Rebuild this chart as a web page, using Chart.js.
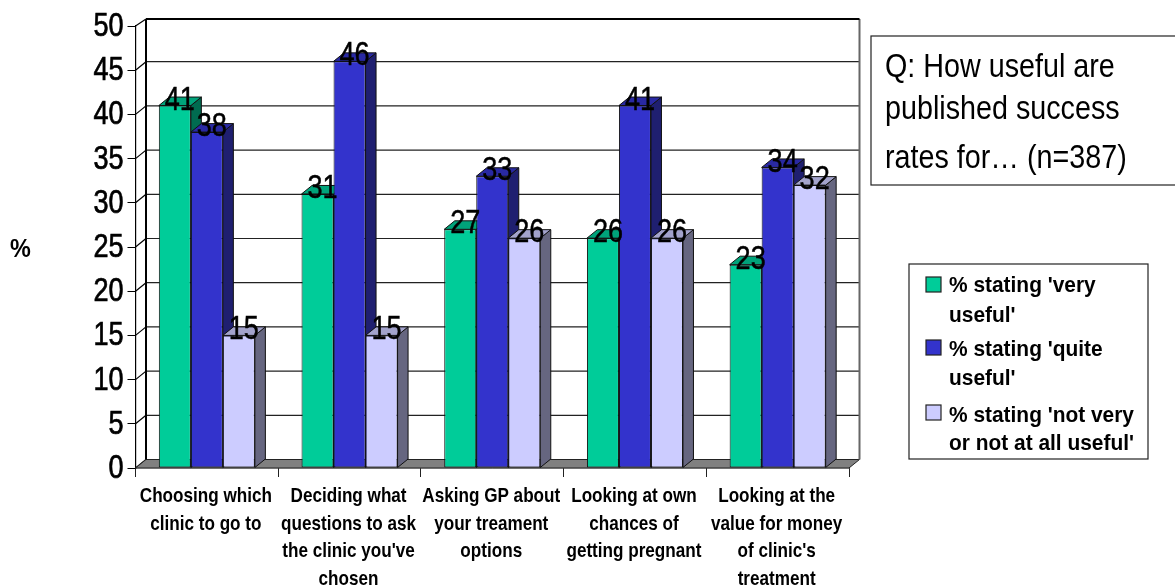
<!DOCTYPE html>
<html>
<head>
<meta charset="utf-8">
<title>Usefulness of published success rates</title>
<script src="https://cdn.jsdelivr.net/npm/chart.js@4"></script>
<style>
  html, body { margin: 0; padding: 0; background: #fff; }
  canvas { display: block; }
</style>
</head>
<body>
<canvas id="usefulChart" width="1175" height="588"></canvas>
<script>
const categories = [
  ["Choosing which", "clinic to go to"],
  ["Deciding what", "questions to ask", "the clinic you've", "chosen"],
  ["Asking GP about", "your treament", "options"],
  ["Looking at own", "chances of", "getting pregnant"],
  ["Looking at the", "value for money", "of clinic's", "treatment"]
];
const veryUseful = [41, 31, 27, 26, 23];
const quiteUseful = [38, 46, 33, 41, 34];
const notUseful = [15, 15, 26, 26, 32];

const seriesNames = ["% stating 'very useful'", "% stating 'quite useful'", "% stating 'not very or not at all useful'"];
const legendLines = [["% stating 'very", "useful'"], ["% stating 'quite", "useful'"], ["% stating 'not very", "or not at all useful'"]];
const questionLines = ["Q: How useful are", "published success", "rates for\u2026 (n=387)"];

const SANS = '"Liberation Sans", Arial, sans-serif';
const DX = 10.5, DY = 8.5;   // depth of the fake 3D extrusion

const faces = [
  { front: "#00CC99", top: "#00A37A", side: "#006B50" },
  { front: "#3333CC", top: "#2929A3", side: "#1F1F70" },
  { front: "#CCCCFF", top: "#A3A3CC", side: "#666680" }
];

function poly(ctx, pts, fill, stroke) {
  ctx.beginPath();
  pts.forEach((p, i) => i ? ctx.lineTo(p[0], p[1]) : ctx.moveTo(p[0], p[1]));
  ctx.closePath();
  if (fill) { ctx.fillStyle = fill; ctx.fill(); }
  if (stroke) { ctx.strokeStyle = stroke; ctx.lineWidth = 1; ctx.stroke(); }
}

function line(ctx, x1, y1, x2, y2, color, width) {
  ctx.beginPath();
  ctx.moveTo(x1, y1);
  ctx.lineTo(x2, y2);
  ctx.strokeStyle = color;
  ctx.lineWidth = width;
  ctx.stroke();
}

// there is no condensed Arial here, so text gets squeezed horizontally
function squeezed(ctx, text, x, y, sx, heavy) {
  ctx.save();
  ctx.translate(x, y);
  ctx.scale(sx, 1);
  ctx.fillText(text, 0, 0);
  if (heavy) {
    ctx.strokeStyle = "#000";
    ctx.lineWidth = heavy;
    ctx.strokeText(text, 0, 0);
  }
  ctx.restore();
}

// back wall, floor and slanted tick connectors
const wallPlugin = {
  id: "wall",
  beforeDatasetsDraw(chart) {
    const { ctx, chartArea: a, scales: { y } } = chart;
    const wallTop = a.top - 7;
    ctx.save();
    y.ticks.forEach((t) => {
      const py = y.getPixelForValue(t.value);
      line(ctx, a.left, py, a.left + DX, t.value === 50 ? wallTop : py - DY, "#000", 1.2);
      if (t.value > 0 && t.value < 50) line(ctx, a.left + DX, py - DY, a.right + DX, py - DY, "#222", 1.2);
    });
    poly(ctx, [[a.left, a.bottom], [a.right, a.bottom], [a.right + DX, a.bottom - DY], [a.left + DX, a.bottom - DY]], "#808080", "#222");
    line(ctx, a.right + DX, wallTop, a.right + DX, a.bottom - DY, "#666", 2);
    line(ctx, a.left + DX, wallTop, a.left + DX, a.bottom - DY, "#000", 2);
    line(ctx, a.left + DX, wallTop, a.right + DX, wallTop, "#000", 2);
    ctx.restore();
  }
};

// Chart.js paints datasets last to first, but here each bar has to cover its
// left neighbour's side face, so the default pass is cancelled and redone left to right
const barsPlugin = {
  id: "bars3d",
  beforeDatasetDraw() { return false; },
  afterDatasetsDraw(chart) {
    const { ctx } = chart;
    const metas = chart.data.datasets.map((_, i) => chart.getDatasetMeta(i));
    ctx.save();
    metas.forEach((meta, m) => {
      const f = faces[m];
      meta.data.forEach((bar) => {
        const l = bar.x - bar.width / 2, r = bar.x + bar.width / 2, t = bar.y, b = bar.base;
        poly(ctx, [[r, t], [r + DX, t - DY], [r + DX, b - DY], [r, b]], f.side, "#111");
        poly(ctx, [[l, t], [l + DX, t - DY], [r + DX, t - DY], [r, t]], f.top, "#111");
        bar.draw(ctx);
      });
    });
    // value labels sit on top of everything
    ctx.font = "33px " + SANS;
    ctx.fillStyle = "#000";
    ctx.textAlign = "center";
    ctx.textBaseline = "middle";
    metas.forEach((meta, m) => {
      meta.data.forEach((bar, i) => {
        squeezed(ctx, chart.data.datasets[m].data[i], bar.x + 5, bar.y - 5, 0.82, 0.5);
      });
    });
    ctx.restore();
  }
};

// axis labels, drawn from the scales' own ticks so they can be squeezed
const axisLabelPlugin = {
  id: "axisLabels",
  afterDraw(chart) {
    const { ctx, chartArea: a, scales: { x, y } } = chart;
    ctx.save();
    ctx.fillStyle = "#000";
    ctx.font = "33px " + SANS;
    ctx.textAlign = "right";
    ctx.textBaseline = "middle";
    y.ticks.forEach((t, i) => squeezed(ctx, t.label, a.left - 12, y.getPixelForTick(i) + 1, 0.82, 0.7));

    ctx.font = "bold 21px " + SANS;
    ctx.textAlign = "center";
    ctx.textBaseline = "alphabetic";
    x.ticks.forEach((t, i) => {
      t.label.forEach((txt, j) => squeezed(ctx, txt, x.getPixelForTick(i) - 1, a.bottom + 34 + j * 27.5, 0.815));
    });
    ctx.restore();
  }
};

const notesPlugin = {
  id: "notes",
  afterDraw(chart) {
    const { ctx } = chart;
    ctx.save();
    ctx.fillStyle = "#000";
    ctx.textBaseline = "alphabetic";
    ctx.textAlign = "left";

    // axis unit
    ctx.font = "bold 26px " + SANS;
    squeezed(ctx, "%", 10, 257, 0.9);

    // question box
    ctx.fillStyle = "#fff";
    ctx.strokeStyle = "#222";
    ctx.lineWidth = 1.2;
    ctx.fillRect(871, 36, 310, 149);
    ctx.strokeRect(871, 36, 310, 149);
    ctx.fillStyle = "#000";
    ctx.font = "33px " + SANS;
    [77, 119, 168].forEach((by, i) => squeezed(ctx, questionLines[i], 885, by, 0.87));

    // legend box
    ctx.fillStyle = "#fff";
    ctx.fillRect(909, 264, 239, 195);
    ctx.strokeRect(909, 264, 239, 195);
    ctx.font = "bold 22px " + SANS;
    const swatchY = [277, 340, 405];
    const textY = [[292, 322], [356, 385], [422, 450]];
    legendLines.forEach((lines, i) => {
      ctx.fillStyle = faces[i].front;
      ctx.fillRect(926, swatchY[i], 15, 15);
      ctx.strokeRect(926, swatchY[i], 15, 15);
      ctx.fillStyle = "#000";
      lines.forEach((txt, j) => squeezed(ctx, txt, 949, textY[i][j], 0.95));
    });
    ctx.restore();
  }
};

new Chart(document.getElementById("usefulChart"), {
  type: "bar",
  data: {
    labels: categories,
    datasets: [veryUseful, quiteUseful, notUseful].map((data, i) => ({
      label: seriesNames[i],
      data,
      backgroundColor: faces[i].front,
      borderColor: "#111",
      borderWidth: 1,
      borderSkipped: false,
      barPercentage: 1,
      categoryPercentage: 0.673
    }))
  },
  options: {
    responsive: false,
    animation: false,
    layout: { padding: { top: 26, right: 326, left: 0, bottom: 0 } },
    plugins: { legend: { display: false }, tooltip: { enabled: false } },
    scales: {
      x: {
        afterFit: (s) => { s.height = 120; },
        grid: { drawOnChartArea: false, drawTicks: true, tickLength: 9, color: "#222", offset: true },
        border: { color: "#000", width: 1.2 },
        ticks: { display: false, autoSkip: false, maxRotation: 0 }
      },
      y: {
        min: 0, max: 50,
        afterFit: (s) => { s.width = 135.5; },
        grid: { drawOnChartArea: false, drawTicks: true, tickLength: 8, color: "#000" },
        border: { color: "#000", width: 1.2 },
        ticks: { display: false, stepSize: 5 }
      }
    }
  },
  plugins: [wallPlugin, barsPlugin, axisLabelPlugin, notesPlugin]
});
</script>
</body>
</html>
